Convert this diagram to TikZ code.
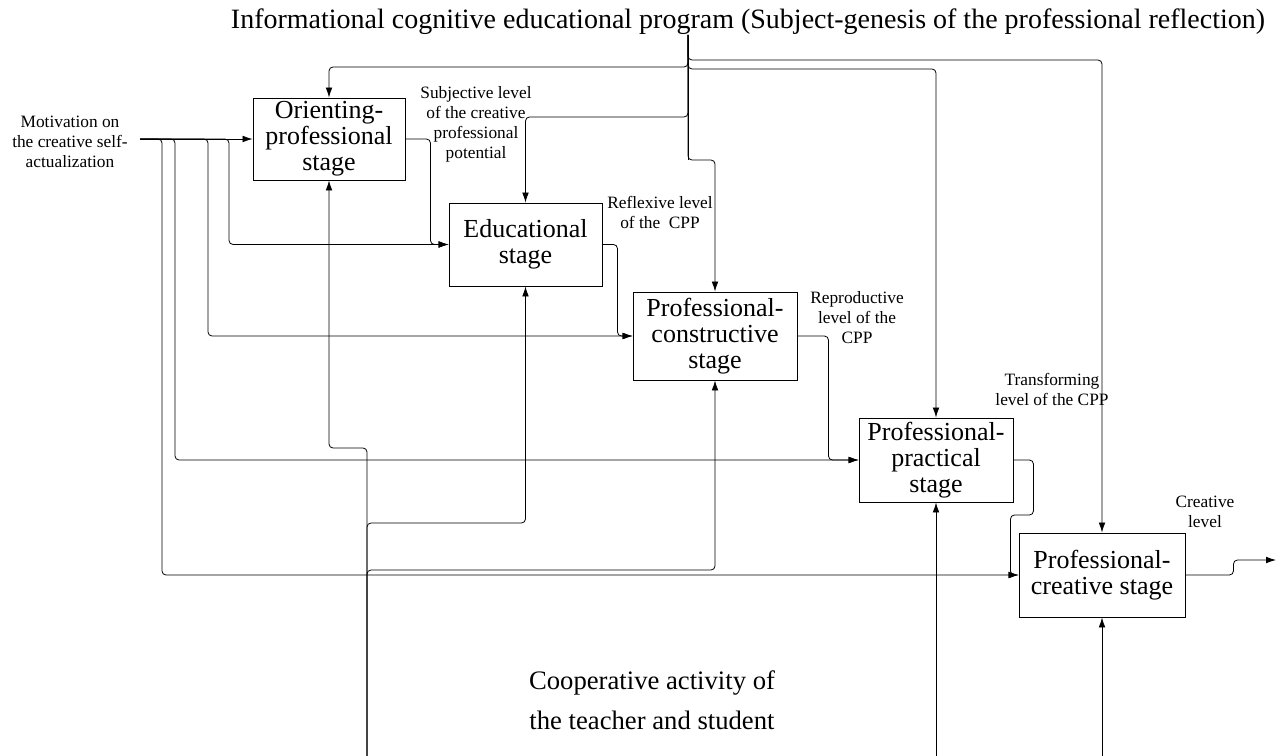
\documentclass[tikz,border=0pt]{standalone}
\usepackage{fontspec}
\setmainfont{Liberation Serif}
\usetikzlibrary{arrows.meta}
\begin{document}
\begin{tikzpicture}[x=0.75pt,y=-0.75pt,
				stagebox/.style={draw,line width=0.7pt,align=center,inner sep=0pt,font=\fontsize{19.5}{19.5}\selectfont},
				lvl/.style={align=center,inner sep=0pt,font=\fontsize{13}{15}\selectfont},
				big/.style={align=center,inner sep=0pt,font=\fontsize{21}{30}\selectfont},
				flow/.style={->,>={Latex[length=7.5pt,width=5pt]},line width=0.6pt,rounded corners=3pt},
				wire/.style={line width=0.6pt,rounded corners=3pt}]
\useasboundingbox (0,0) rectangle (1279,756);
\node[big] (title) at (748,22) {Informational cognitive educational program (Subject-genesis of the professional reflection)};
\node[big,font=\fontsize{20}{30}\selectfont] (coop) at (652,700) {Cooperative activity of\\ the teacher and student};
\node[stagebox,minimum width=114pt,minimum height=61.5pt] (ori) at (329,139) {Orienting-\\professional\\stage};
\node[stagebox,minimum width=114.75pt,minimum height=62.25pt] (edu) at (525.5,244.5) {Educational\\stage};
\node[stagebox,minimum width=123pt,minimum height=66pt] (pcon) at (715,336) {Professional-\\constructive\\stage};
\node[stagebox,minimum width=115.5pt,minimum height=63pt] (ppra) at (936,460) {Professional-\\practical\\stage};
\node[stagebox,minimum width=124.5pt,minimum height=63pt] (pcre) at (1102,575) {Professional-\\creative stage};
\node[lvl] (motlbl) at (70,142) {Motivation on\\the creative self-\\actualization};
\node[lvl] (subj) at (476,124) {Subjective level\\of the creative\\professional\\potential};
\node[lvl] (refl) at (660,212) {Reflexive level\\of the \ CPP};
\node[lvl] (repr) at (857,318) {Reproductive\\level of the\\CPP};
\node[lvl] (trans) at (1052,389) {Transforming\\level of the CPP};
\node[lvl] (crea) at (1205,512) {Creative\\level};
\coordinate (mot) at (140,139);
\coordinate (trunk) at (688,35);
\coordinate (base) at (367,756);
\coordinate (out) at (1276,560);
\draw[flow] (mot) -- (ori.west);
\draw[flow] (mot) -- ++(89,0) |- (edu.west);
\draw[flow] (mot) -- ++(68,0) |- (pcon.west);
\draw[flow] (mot) -- ++(35,0) |- (ppra.west);
\draw[flow] (mot) -- ++(22,0) |- (pcre.west);
\draw[wire] (trunk) -- ++(0,125);
\draw[flow] (trunk) -- ++(0,32) -| (ori.north);
\draw[flow] (trunk) -- ++(0,82) -| (edu.north);
\draw[flow] (trunk) -- ++(0,125) -| (pcon.north);
\draw[flow] (trunk) -- ++(0,34) -| (ppra.north);
\draw[flow] (trunk) -- ++(0,25) -| (pcre.north);
\draw[flow] (ori.east) -- ++(25,0) |- (edu.west);
\draw[flow] (edu.east) -- ++(15,0) |- (pcon.west);
\draw[flow] (pcon.east) -- ++(31,0) |- (ppra.west);
\draw[flow] (ppra.east) -- ++(20,0) -- ++(0,55) -- ++(-23,0) |- (pcre.west);
\draw[flow] (pcre.east) -- ++(48,0) |- (out);
\draw[flow] (base) -- ++(0,-308) -| (ori.south);
\draw[flow] (base) -- ++(0,-233) -| (edu.south);
\draw[flow] (base) -- ++(0,-186) -| (pcon.south);
\draw[flow] (ppra.south |- base) -- (ppra.south);
\draw[flow] (pcre.south |- base) -- (pcre.south);
\end{tikzpicture}
\end{document}
